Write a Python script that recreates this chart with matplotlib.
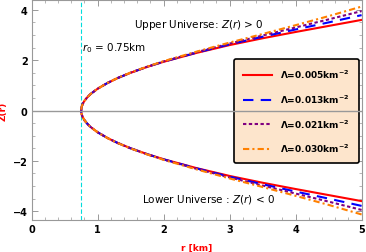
import numpy as np
import matplotlib
matplotlib.use("Agg")
import matplotlib.pyplot as plt

# r values (km) and embedding height Z(r) of the upper sheet
r_vals = [0.75, 0.752, 0.76, 0.775, 0.80, 0.85, 0.90, 1.00, 1.15, 1.30, 1.50,
          1.75, 2.00, 2.50, 3.00, 3.50, 4.00, 4.50, 5.00]
z_005 = [0.0, 0.077, 0.173, 0.274, 0.387, 0.548, 0.671, 0.866, 1.095, 1.285, 1.50,
         1.732, 1.936, 2.29, 2.60, 2.87, 3.12, 3.36, 3.60]
z_013 = [0.0, 0.077, 0.173, 0.274, 0.387, 0.548, 0.671, 0.866, 1.095, 1.286, 1.502,
         1.736, 1.942, 2.30, 2.63, 2.93, 3.22, 3.50, 3.79]
z_021 = [0.0, 0.077, 0.173, 0.274, 0.387, 0.548, 0.671, 0.867, 1.096, 1.288, 1.505,
         1.740, 1.950, 2.32, 2.66, 2.98, 3.30, 3.62, 3.95]
z_030 = [0.0, 0.077, 0.173, 0.274, 0.387, 0.548, 0.672, 0.868, 1.098, 1.290, 1.508,
         1.745, 1.960, 2.34, 2.70, 3.04, 3.39, 3.75, 4.13]

labels = [r"Λ=0.005km$^{\mathbf{-2}}$", r"Λ=0.013km$^{\mathbf{-2}}$",
          r"Λ=0.021km$^{\mathbf{-2}}$", r"Λ=0.030km$^{\mathbf{-2}}$"]
colors = ["#ff0000", "#0000ff", "#800080", "#ff8000"]
styles = ["-", (0, (5, 3.5)), (0, (1.6, 1.2)), (0, (3, 1.5, 1, 1.5))]
r0 = 0.75

fig = plt.figure(figsize=(3.66, 2.53), dpi=100)
ax = fig.add_axes([0.0866, 0.1265, 0.9014, 0.8695])

r = np.array(r_vals)
for z, c, ls, lab in zip([z_005, z_013, z_021, z_030], colors, styles, labels):
    z = np.array(z)
    # upper sheet Z>0 and its mirror Z<0
    rr = np.concatenate([r[::-1], r[1:]])
    zz = np.concatenate([-z[::-1], z[1:]])
    ax.plot(rr, zz, color=c, ls=ls, lw=1.5, label=lab)

ax.axvline(r0, color="#00dddd", ls=(0, (4, 2)), lw=0.8, zorder=1)
ax.axhline(0, color="#999999", lw=1.0, zorder=6)

ax.set_xlim(0, 5)
ax.set_ylim(-4.35, 4.39)
ax.set_xticks([0, 1, 2, 3, 4, 5])
ax.set_yticks([-4, -2, 0, 2, 4])
ax.set_xticks(np.arange(0, 5.01, 0.2), minor=True)
ax.set_yticks(np.arange(-4, 4.01, 0.5), minor=True)
ax.tick_params(which="both", direction="in", top=True, right=True,
               color="#999999", labelsize=7, pad=3)
ax.tick_params(which="major", length=4, width=0.7)
ax.tick_params(which="minor", length=2, width=0.5)
for lab in ax.get_xticklabels() + ax.get_yticklabels():
    lab.set_fontweight("bold")
for sp in ax.spines.values():
    sp.set_color("#999999")
    sp.set_linewidth(0.8)

ax.set_xlabel("r [km]", color="red", fontweight="bold", fontsize=6.5)
ax.set_ylabel("Z(r)", color="red", fontweight="bold", fontsize=6.5)
ax.xaxis.set_label_coords(0.5, -0.105)
ax.yaxis.set_label_coords(-0.072, 0.5)

ax.text(1.55, 3.44, r"Upper Universe: $Z(r)$ > 0", fontsize=7.5, va="center")
ax.text(0.76, 2.53, r"$r_0$ = 0.75km", fontsize=7.5, va="center")
ax.text(1.67, -3.49, r"Lower Universe : $Z(r)$ < 0", fontsize=7.5, va="center")

leg = ax.legend(loc="upper left", bbox_to_anchor=(0.613, 0.732), borderaxespad=0,
                prop={"weight": "bold", "size": 6.5}, handlelength=3.2,
                labelspacing=1.35, borderpad=1.0, handletextpad=0.9,
                fancybox=True, framealpha=1.0, facecolor="#fde5cc",
                edgecolor="black")
leg.get_frame().set_linewidth(1.2)
leg.set_zorder(5)

fig.savefig("out.png", dpi=100)
